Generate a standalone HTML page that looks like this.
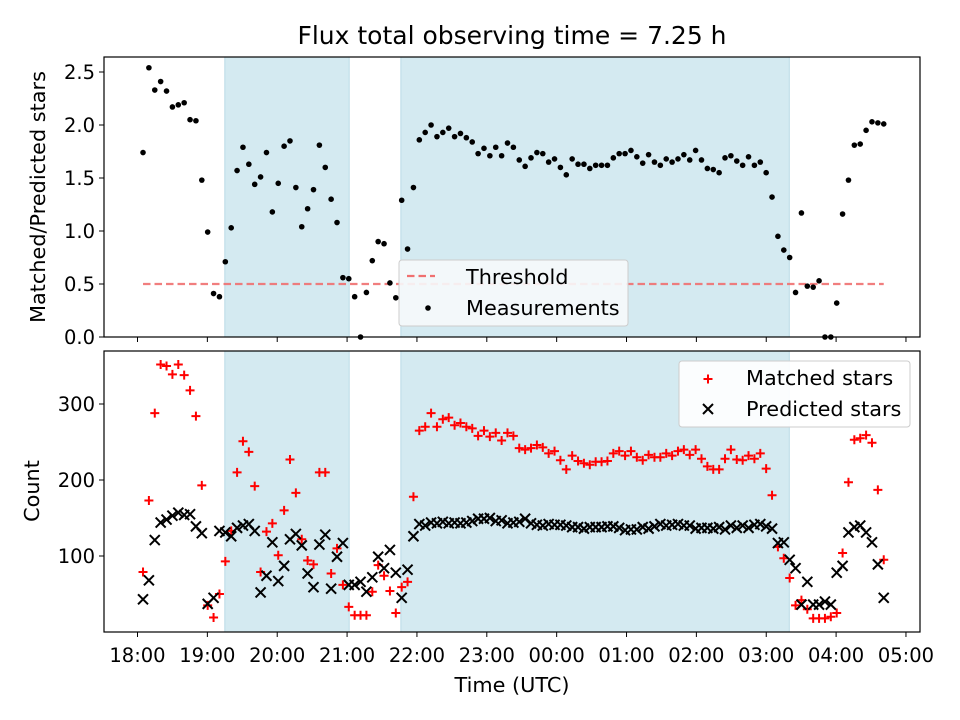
<!DOCTYPE html>
<html><head><meta charset="utf-8"><style>
body{margin:0;background:#fff}
svg{display:block;font-family:"DejaVu Sans","Liberation Sans",sans-serif}
</style></head><body>
<svg id="chart" width="960" height="720" viewBox="0 0 960 720" xmlns="http://www.w3.org/2000/svg">
<rect width="960" height="720" fill="#fff"/>
<text x="512" y="44" font-size="25" text-anchor="middle">Flux total observing time = 7.25 h</text>
<g id="topPanel"></g><g id="botPanel"></g>
</svg>
<script>
const startHour = 0.079; // hours after 18:00 for first sample
const stepHour = 0.08415;
const ratio = [1.74,2.54,2.33,2.41,2.32,2.17,2.19,2.21,2.05,2.04,1.48,0.99,0.41,0.38,0.71,1.03,1.57,1.79,1.63,1.44,1.51,1.74,1.18,1.45,1.80,1.85,1.41,1.04,1.21,1.39,1.81,1.60,1.30,1.08,0.56,0.55,0.38,0,0.42,0.72,0.90,0.88,0.51,0.37,1.29,
0.83,1.41,1.86,1.93,2.00,1.89,1.93,1.97,1.89,1.92,1.88,1.84,1.73,1.78,1.71,1.79,1.71,1.83,1.79,1.67,1.61,1.69,1.74,1.73,1.65,1.68,1.60,1.53,1.68,1.63,1.63,1.59,1.62,1.62,1.62,1.69,1.73,1.73,1.76,1.70,1.64,1.72,1.65,1.62,1.68,1.65,1.68,1.72,1.67,1.76,1.67,1.59,1.58,1.55,1.69,1.71,1.66,1.62,1.70,1.62,1.65,1.55,1.32,0.95,0.82,0.75,0.42,1.17,0.48,0.47,0.53,0,0,0.32,1.16,1.48,1.81,1.82,1.95,2.03,2.02,2.01];
const matched = [79,173,288,352,350,339,352,338,318,284,193,35,19,50,93,133,210,251,237,192,79,132,143,101,160,227,183,122,94,89,210,210,77,110,62,33,22,22,22,53,88,74,54,25,59,66,178,
265,270,288,270,280,282,272,275,270,268,258,265,257,262,252,262,258,242,240,242,246,243,235,238,226,214,232,225,222,220,224,224,225,235,238,232,238,230,226,233,230,230,235,232,238,240,233,240,228,218,214,214,228,240,227,226,232,228,235,215,180,112,97,71,
35,42,30,18,18,18,20,25,104,197,253,255,259,249,187,95];
const predicted = [43,68,121,144,148,153,157,154,155,139,130,37,45,133,131,126,137,140,142,133,52,74,118,67,87,122,129,114,77,59,115,128,57,99,117,62,62,66,53,72,99,84,108,78,45,82,126,
142,140,144,143,145,143,144,143,144,146,149,149,150,146,147,143,144,145,149,143,141,140,142,141,141,140,138,138,136,138,138,138,139,139,137,134,135,135,138,136,139,142,140,141,142,140,140,136,137,137,136,138,135,140,137,140,137,141,142,139,136,117,118,95,
84,36,66,36,36,40,36,78,87,131,138,140,131,118,89,45];
const shadeStart = [19.25, 21.77];
const shadeEnd = [21.03, 27.33];
const topTicks = [0,0.5,1.0,1.5,2.0,2.5];
const botTicks = [100,200,300];
const xTickHours = [18,19,20,21,22,23,24,25,26,27,28,29];
const xTickLabels = ["18:00","19:00","20:00","21:00","22:00","23:00","00:00","01:00","02:00","03:00","04:00","05:00"];
const threshold = 0.5;

const NS="http://www.w3.org/2000/svg";
const L=104,R=920;
const T1=57,B1=337,T2=351,B2=632;
function X(h){return 137.5+(h-18)*69.86;}
function Y1(v){return B1-v*106;}
function Y2(v){return B2-v*0.76;}
function tAt(i){return 18+startHour+i*stepHour;}
function mk(tag,attrs,parent){const e=document.createElementNS(NS,tag);for(const k in attrs)e.setAttribute(k,attrs[k]);parent.appendChild(e);return e;}
const topG=document.getElementById('topPanel'),botG=document.getElementById('botPanel');

function panel(g,T,B,name){
  for(let k=0;k<shadeStart.length;k++){
    const r=mk('rect',{x:X(shadeStart[k]),y:T,width:X(shadeEnd[k])-X(shadeStart[k]),height:B-T,fill:'#d4eaf1',stroke:'#b9dbe6','stroke-width':1},g);
    
    
  }
}
panel(topG,T1,B1,'top');panel(botG,T2,B2,'bottom');

const th=mk('line',{x1:X(tAt(0)),x2:X(tAt(ratio.length-1)),y1:Y1(threshold),y2:Y1(threshold),stroke:'#f07070','stroke-opacity':0.9,'stroke-width':2.2,'stroke-dasharray':'7.5,4'},topG);



ratio.forEach((v,i)=>{
  const c=mk('circle',{cx:X(tAt(i)),cy:Y1(v),r:2.8,fill:'#000'},topG);
  
  
});
function plus(g,x,y){return mk('path',{d:`M${x-4.5},${y}H${x+4.5}M${x},${y-4.5}V${y+4.5}`,stroke:'#f00','stroke-width':2},g);}
function cross(g,x,y){return mk('path',{d:`M${x-5},${y-5}L${x+5},${y+5}M${x-5},${y+5}L${x+5},${y-5}`,stroke:'#000','stroke-width':2},g);}
matched.forEach((v,i)=>{
  const p=plus(botG,X(tAt(i)),Y2(v));
  
  
});
predicted.forEach((v,i)=>{
  const p=cross(botG,X(tAt(i)),Y2(v));
  
  
});

[[topG,T1,B1],[botG,T2,B2]].forEach(([g,T,B],k)=>{
  const f=mk('rect',{x:L,y:T,width:R-L,height:B-T,fill:'none',stroke:'#000','stroke-width':1.2},g);
  
  
  xTickHours.forEach((h,j)=>{
    mk('line',{x1:X(h),x2:X(h),y1:B,y2:B+5,stroke:'#000','stroke-width':1},g);
    if(k){const tx=mk('text',{x:X(h),y:B+30,'font-size':19.5,'text-anchor':'middle'},g);tx.textContent=xTickLabels[j];
      
      }
  });
});
topTicks.forEach(v=>{
  mk('line',{x1:L-5,x2:L,y1:Y1(v),y2:Y1(v),stroke:'#000'},topG);
  const tx=mk('text',{x:L-9,y:Y1(v)+7,'font-size':19.5,'text-anchor':'end'},topG);tx.textContent=v.toFixed(1);
  
  
});
botTicks.forEach(v=>{
  mk('line',{x1:L-5,x2:L,y1:Y2(v),y2:Y2(v),stroke:'#000'},botG);
  const tx=mk('text',{x:L-9,y:Y2(v)+7,'font-size':19.5,'text-anchor':'end'},botG);tx.textContent=v;
  
  
});
let tt;
tt=mk('text',{x:45,y:197,'font-size':20.8,'text-anchor':'middle',transform:'rotate(-90 45 197)'},topG);tt.textContent='Matched/Predicted stars';


tt=mk('text',{x:39,y:491,'font-size':20.8,'text-anchor':'middle',transform:'rotate(-90 39 491)'},botG);tt.textContent='Count';


tt=mk('text',{x:512,y:692,'font-size':20.8,'text-anchor':'middle'},botG);tt.textContent='Time (UTC)';



let lg=mk('g',{},topG);


mk('rect',{x:399,y:260,width:229,height:66,rx:3,fill:'#f6f9fb','fill-opacity':0.9,stroke:'#ccc'},lg);
mk('line',{x1:407,x2:435,y1:276,y2:276,stroke:'#f07070','stroke-width':2.2,'stroke-dasharray':'7.5,4'},lg);
tt=mk('text',{x:466,y:284,'font-size':20.8},lg);tt.textContent='Threshold';


mk('circle',{cx:428,cy:308,r:2.8,fill:'#000'},lg);
tt=mk('text',{x:466,y:315,'font-size':20.8},lg);tt.textContent='Measurements';



lg=mk('g',{},botG);


mk('rect',{x:679,y:361,width:231,height:66,rx:3,fill:'#fff','fill-opacity':0.9,stroke:'#ccc'},lg);
plus(lg,708,379);
tt=mk('text',{x:746,y:385,'font-size':20.8},lg);tt.textContent='Matched stars';


cross(lg,708,409);
tt=mk('text',{x:746,y:416,'font-size':20.8},lg);tt.textContent='Predicted stars';


</script>
</body></html>
